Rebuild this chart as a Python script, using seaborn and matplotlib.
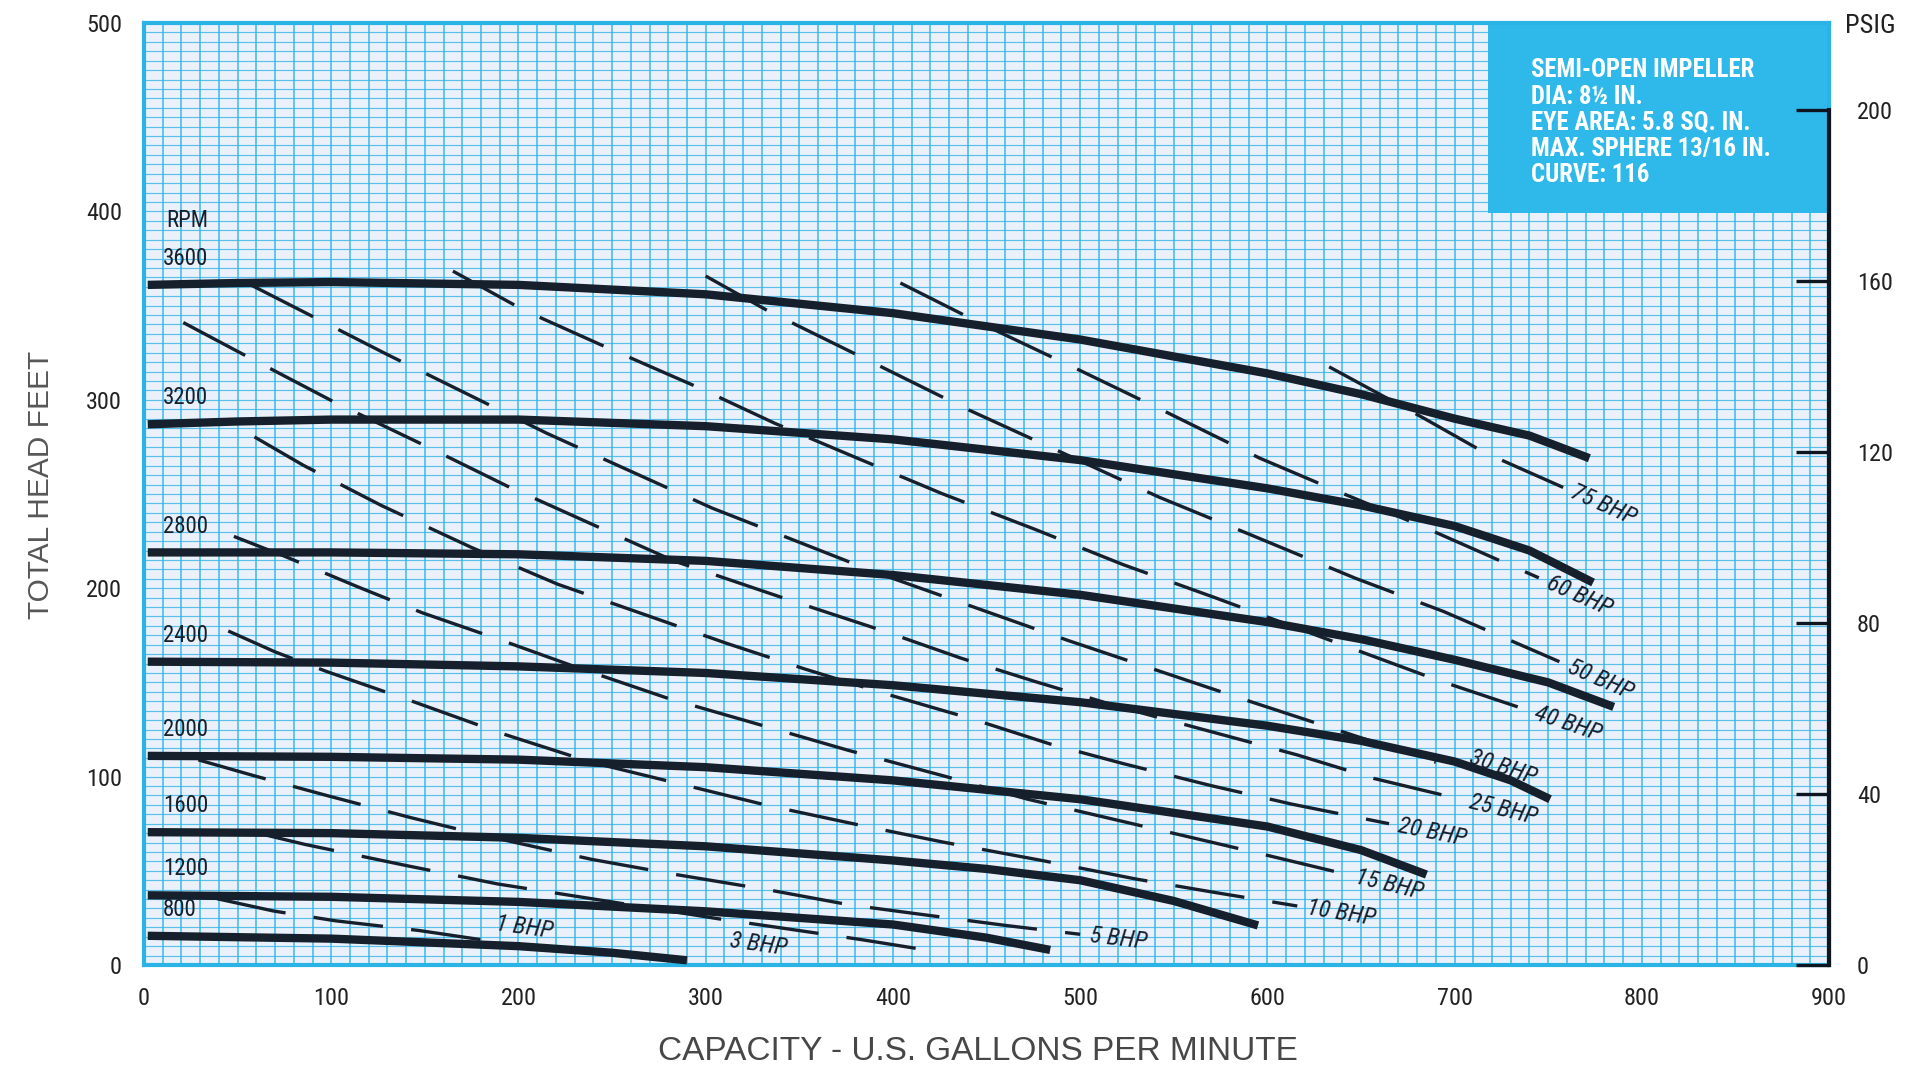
import numpy as np
import matplotlib
matplotlib.use("Agg")
import matplotlib.pyplot as plt
import seaborn as sns
from matplotlib import font_manager
from matplotlib.patches import Rectangle

# ---------------- head-capacity curves (U.S. gpm, feet) ----------------
RPM_SPEEDS = ["3600", "3200", "2800", "2400", "2000", "1600", "1200", "800"]

GPM_3600 = [2, 50, 100, 200, 300, 400, 500, 600, 650, 700, 740, 772]
HEAD_3600 = [361, 362, 362.5, 361, 356, 346, 332, 314, 303, 290, 281, 269]

GPM_3200 = [2, 50, 100, 200, 300, 400, 500, 600, 650, 700, 740, 774]
HEAD_3200 = [287, 288.5, 289.5, 289.5, 286, 279, 268, 253, 244, 233, 220, 203]

GPM_2800 = [2, 100, 200, 300, 400, 500, 600, 650, 700, 750, 785]
HEAD_2800 = [219, 219, 218, 214.5, 207, 196.5, 182, 173, 162, 150, 137]

GPM_2400 = [2, 100, 200, 300, 400, 500, 600, 650, 700, 730, 751]
HEAD_2400 = [161, 160.5, 158.5, 155, 148.5, 139.5, 127, 119, 108, 98, 88]

GPM_2000 = [2, 100, 200, 300, 400, 500, 600, 650, 685]
HEAD_2000 = [111, 110.5, 109, 105, 98, 88, 73.5, 61, 48]

GPM_1600 = [2, 100, 200, 300, 400, 450, 500, 550, 595]
HEAD_1600 = [70.5, 70, 67.5, 63, 55.5, 51, 45, 34, 21]

GPM_1200 = [2, 100, 200, 300, 400, 450, 484]
HEAD_1200 = [37, 36.2, 33.5, 28.5, 21.5, 14.5, 8]

GPM_800 = [2, 100, 200, 250, 290]
HEAD_800 = [15.5, 14, 10, 6.5, 2.5]

# ---------------- brake-horsepower lines (U.S. gpm, feet) ----------------
BHP_LABELS = ["75 BHP", "60 BHP", "50 BHP", "40 BHP", "30 BHP", "25 BHP",
              "20 BHP", "15 BHP", "10 BHP", "5 BHP", "3 BHP", "1 BHP"]

GPM_75 = [633, 659, 684, 716, 758]
HEAD_75 = [317.5, 303.5, 290, 272, 253.5]

GPM_60 = [404, 445, 497, 547, 596, 641, 680, 745]
HEAD_60 = [362, 341.5, 317, 293, 269, 250, 234, 205.5]

GPM_50 = [300, 334, 390, 439, 485, 542, 590, 647, 694, 756]
HEAD_50 = [365.7, 346.8, 319.4, 295.3, 274.4, 248.4, 228.8, 205.3, 187.7, 161]

GPM_40 = [165, 203, 248.5, 295, 337, 382, 426, 475.5, 523, 572, 691, 738]
HEAD_40 = [368.3, 347.5, 327.2, 307, 287.5, 268.6, 250.3, 231.4, 212.5, 195, 151.2, 135.6]

GPM_30 = [57, 130, 215, 303.5, 392, 494, 588, 690]
HEAD_30 = [361, 324, 282.3, 242.5, 208, 172.1, 140.8, 107.6]

GPM_25 = [21, 57, 102, 150, 194, 245, 283, 343, 395, 436, 475.5, 521, 616, 657, 703]
HEAD_25 = [341, 322, 298.6, 275.7, 254.2, 231.4, 214.5, 194.3, 177.3, 163, 150.6, 137, 111.5, 99, 88]

GPM_20 = [59, 85, 127, 175, 221, 270, 311, 353, 398, 443, 484, 523, 570, 613, 665]
HEAD_20 = [280.3, 265.3, 243.8, 221.6, 202.1, 185.1, 170.8, 157.1, 143.4, 130.4, 117.3, 106.9, 95.2, 85.4, 75]

GPM_15 = [48, 75, 114, 148.5, 188, 230, 280, 328, 376, 427, 472, 592.5, 642]
HEAD_15 = [227.5, 217, 200.8, 187, 173.4, 158.4, 141.5, 127.8, 114, 100.4, 88, 60, 48.2]

GPM_10 = [45, 70, 97.5, 141, 192, 239, 290, 333, 382, 427, 480, 530, 572, 616]
HEAD_10 = [177.3, 166.2, 155.8, 140.8, 122.6, 107.6, 95.2, 84.7, 74.3, 65.2, 55.4, 45.6, 38.5, 31.3]

GPM_5 = [29, 59, 97.5, 142.6, 183, 239, 283, 334, 377, 421, 461, 500]
HEAD_5 = [108.9, 100.4, 90, 78.2, 68.4, 56.1, 48.2, 39.8, 31.9, 26.1, 20.9, 16.3]

GPM_3 = [65, 86, 140, 189, 239, 307, 383, 427]
HEAD_3 = [69, 64, 52.8, 43, 35.2, 24.5, 13.5, 6.5]

GPM_1 = [39, 69, 102, 147, 183]
HEAD_1 = [35.2, 28.7, 23.5, 18.3, 13]

# labels that sit away from their line end: (gpm, feet, angle)
LABEL_SPOTS = {"30 BHP": (708, 110.5, -18), "3 BHP": (313, 13, -8), "1 BHP": (188, 22, -8)}

# ---------------- axis scales ----------------
X_TICKS = [0, 100, 200, 300, 400, 500, 600, 700, 800, 900]
Y_TICKS = [0, 100, 200, 300, 400, 500]
PSIG_TICKS = [0, 40, 80, 120, 160, 200]
FEET_PER_PSI = 2.27

INFO_LINES = ["SEMI-OPEN IMPELLER", "DIA: 8\u00bd IN.", "EYE AREA: 5.8 SQ. IN.",
              "MAX. SPHERE 13/16 IN.", "CURVE: 116"]

rpm_curves = [(GPM_3600, HEAD_3600), (GPM_3200, HEAD_3200), (GPM_2800, HEAD_2800),
              (GPM_2400, HEAD_2400), (GPM_2000, HEAD_2000), (GPM_1600, HEAD_1600),
              (GPM_1200, HEAD_1200), (GPM_800, HEAD_800)]
bhp_curves = [(GPM_75, HEAD_75), (GPM_60, HEAD_60), (GPM_50, HEAD_50), (GPM_40, HEAD_40),
              (GPM_30, HEAD_30), (GPM_25, HEAD_25), (GPM_20, HEAD_20), (GPM_15, HEAD_15),
              (GPM_10, HEAD_10), (GPM_5, HEAD_5), (GPM_3, HEAD_3), (GPM_1, HEAD_1)]

# ---------------- fonts ----------------
installed = {f.name for f in font_manager.fontManager.ttflist}
narrow = next((n for n in ["Liberation Sans Narrow", "Roboto Condensed", "DejaVu Sans"]
               if n in installed), "DejaVu Sans")
plain = "Liberation Sans" if "Liberation Sans" in installed else "DejaVu Sans"

INK = "#15202c"
GRID = "#35b4e5"
FRAME = "#2bb3e6"
PAPER = "#eaf1fb"
BOX = "#2fb8ea"

fig = plt.figure(figsize=(19.17, 10.71), dpi=100)
ax = fig.add_axes([0.07512, 0.09897, 0.87898, 0.87955])
ax.set_xlim(0, 900)
ax.set_ylim(0, 500)
ax.set_facecolor(PAPER)

# graph-paper grid: 10 gpm by 5 ft
ax.set_xticks(X_TICKS)
ax.set_yticks(Y_TICKS)
ax.set_xticks(np.arange(0, 901, 10), minor=True)
ax.set_yticks(np.arange(0, 501, 5), minor=True)
ax.xaxis.grid(True, which="both", color=GRID, lw=1.15, alpha=0.9)
ax.yaxis.grid(True, which="both", color=GRID, lw=0.85, alpha=0.8)
ax.set_axisbelow(True)
ax.tick_params(which="both", length=0)
ax.tick_params(axis="both", which="major", pad=16, labelsize=17.5, labelcolor="#222222")
for lab in ax.get_xticklabels() + ax.get_yticklabels():
    lab.set_fontfamily(narrow)
for sp in ax.spines.values():
    sp.set_color(FRAME)
    sp.set_linewidth(3)

ax.set_xlabel("CAPACITY - U.S. GALLONS PER MINUTE", family=plain, fontsize=24,
              color="#474747")
ax.xaxis.set_label_coords(0.495, -0.0913)
ax.xaxis.label.set_verticalalignment("center")
ax.set_ylabel("TOTAL HEAD FEET", family=plain, fontsize=21.5, color="#575757")
ax.yaxis.set_label_coords(-0.061, 0.51)
ax.yaxis.label.set_verticalalignment("center")

# specification panel
ax.add_patch(Rectangle((718, 399), 182, 101, facecolor=BOX, edgecolor="none", zorder=2))
ax.text(741, 447, "\n".join(INFO_LINES), family=narrow, weight="bold", fontsize=17.8,
        color="white", ha="left", va="center", linespacing=1.12, zorder=3)

# constant-speed head curves
for (gx, gy), rpm in zip(rpm_curves, RPM_SPEEDS):
    sns.lineplot(x=gx, y=gy, ax=ax, color=INK, lw=6, sort=False, estimator=None,
                 solid_capstyle="butt", solid_joinstyle="round", zorder=5)
    ax.text(10, gy[0] + 14, rpm, family=narrow, fontsize=16.5, color=INK,
            ha="left", va="center", zorder=6)
ax.text(12, 395, "RPM", family=narrow, fontsize=16.5, color=INK, ha="left",
        va="center", zorder=6)

# constant brake-horsepower lines
for (gx, gy), name in zip(bhp_curves, BHP_LABELS):
    sns.lineplot(x=gx, y=gy, ax=ax, color=INK, lw=2.4, sort=False, estimator=None,
                 linestyle=(0, (21, 8.5)), zorder=4)
    style = dict(family=narrow, style="italic", fontsize=17.5, color=INK,
                 rotation_mode="anchor", ha="left", va="center", zorder=6)
    if name in LABEL_SPOTS:
        lx, ly, ang = LABEL_SPOTS[name]
        ax.text(lx, ly, name, rotation=ang, **style)
    else:
        p0, p1 = ax.transData.transform([(gx[-2], gy[-2]), (gx[-1], gy[-1])])
        ang = np.degrees(np.arctan2(p1[1] - p0[1], p1[0] - p0[0]))
        r = np.radians(ang)
        ax.annotate(name, xy=(gx[-1], gy[-1]), xytext=(7 * np.cos(r), 7 * np.sin(r)),
                    textcoords="offset points", rotation=ang, **style)

# pressure scale on the right
ax2 = ax.twinx()
ax2.set_ylim(0, 500 / FEET_PER_PSI)
ax2.set_yticks(PSIG_TICKS)
for side in ["left", "top", "bottom"]:
    ax2.spines[side].set_visible(False)
ax2.spines["right"].set_bounds(0, 200)
ax2.spines["right"].set_color("#0d1620")
ax2.spines["right"].set_linewidth(3)
ax2.tick_params(axis="y", direction="in", length=24, width=2.4, color="#0d1620",
                pad=20, labelsize=17.5, labelcolor="#222222")
for lab in ax2.get_yticklabels():
    lab.set_fontfamily(narrow)
fig.text(1870 / 1917, 1 - 26 / 1071, "PSIG", family=narrow, fontsize=19,
         color="#222222", ha="center", va="center")

fig.savefig("out.png", dpi=100)
